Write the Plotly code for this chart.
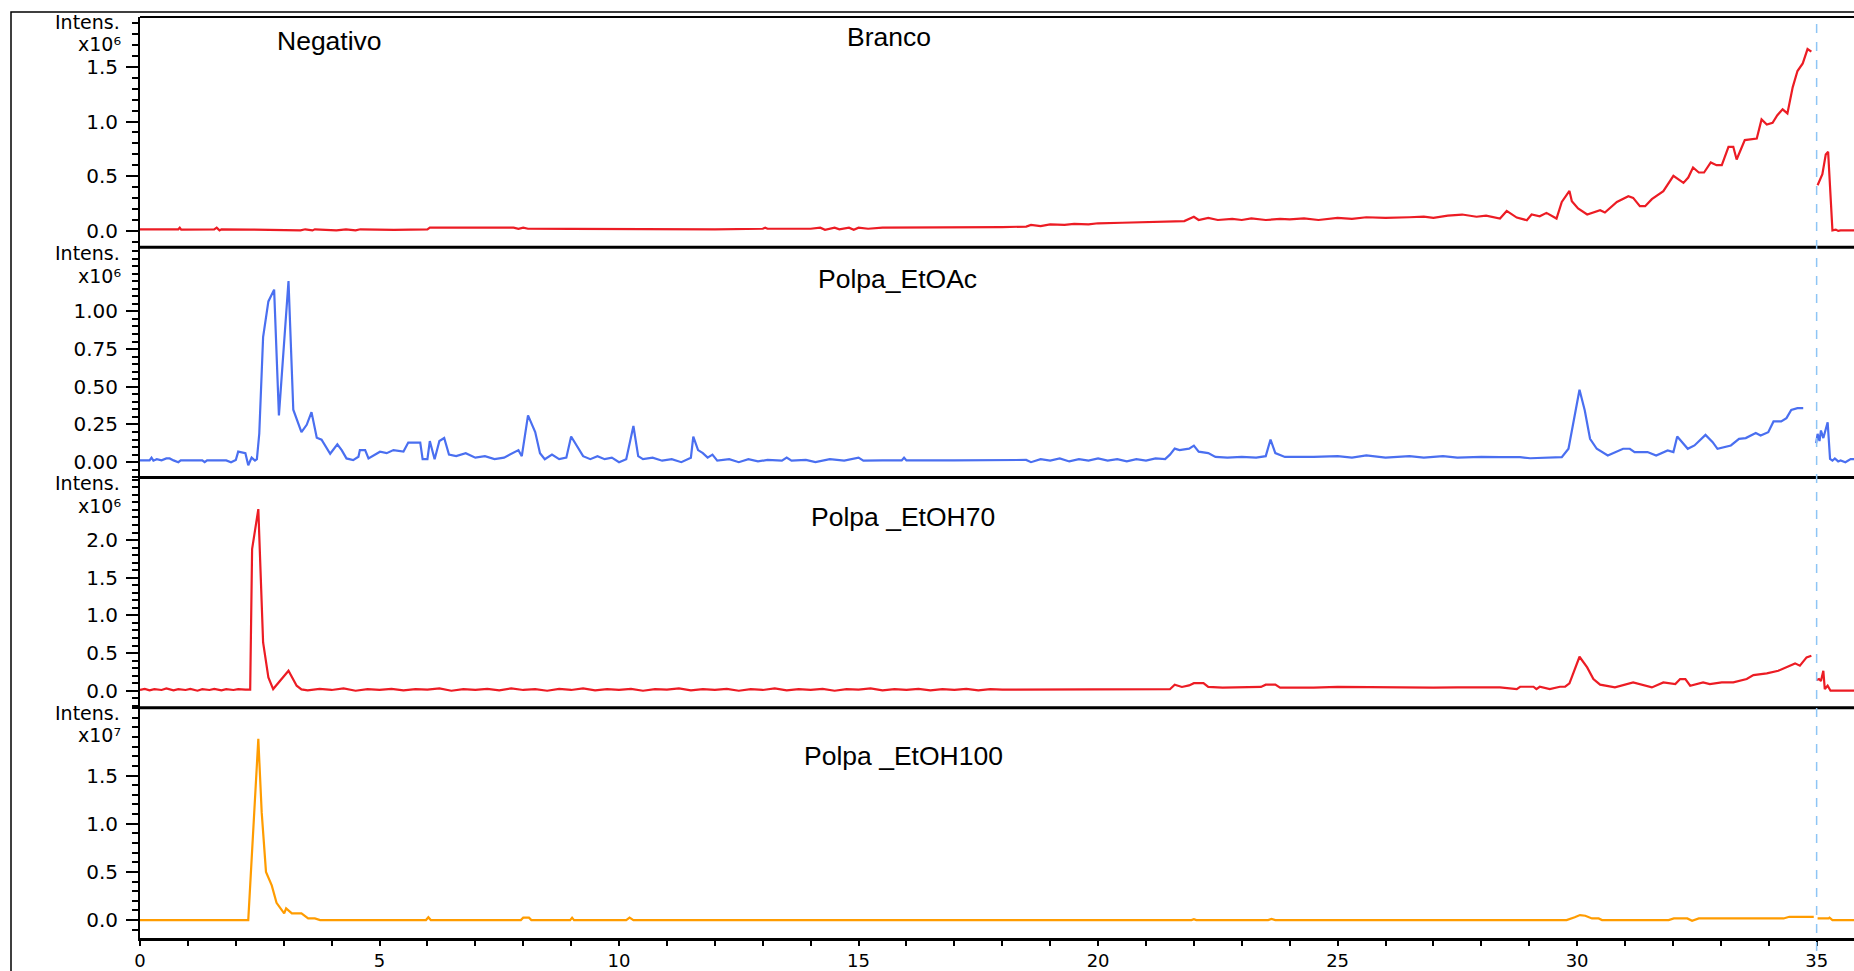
import plotly.graph_objects as go
from plotly.subplots import make_subplots

# ---------------- data (retention time in min, intensity in display units) ----------------
branco_t = [0.0, 0.8, 0.83, 0.86, 1.55, 1.6, 1.66, 1.7, 2.3, 2.85, 3.35, 3.45, 3.6, 3.65, 4.1, 4.3, 4.5,
            4.6, 5.3, 6.0, 6.05, 7.8, 7.9, 8.0, 8.1, 9.0, 10.0, 11.0, 12.0, 13.0, 13.05, 13.1, 14.0,
            14.2, 14.3, 14.5, 14.6, 14.8, 14.9, 15.0, 15.2, 15.5, 16.0, 17.0, 18.0, 18.5, 18.6, 18.8,
            19.0, 19.3, 19.5, 19.8, 20.0, 20.5, 21.0, 21.5, 21.8, 22.0, 22.1, 22.3, 22.5, 22.8, 23.0,
            23.2, 23.5, 23.8, 24.0, 24.3, 24.6, 25.0, 25.3, 25.6, 26.0, 26.5, 26.8, 27.0, 27.3, 27.6,
            27.9, 28.1, 28.39, 28.53, 28.74, 28.95, 29.05, 29.22, 29.36, 29.57, 29.68, 29.84, 29.89,
            30.02, 30.21, 30.48, 30.58, 30.83, 31.07, 31.17, 31.31, 31.42, 31.56, 31.80, 32.01, 32.22,
            32.32, 32.42, 32.54, 32.65, 32.79, 32.91, 33.02, 33.16, 33.26, 33.33, 33.50, 33.75, 33.85,
            33.96, 34.08, 34.18, 34.29, 34.39, 34.50, 34.60, 34.71, 34.81, 34.89, None,
            35.02, 35.12, 35.19, 35.24, 35.33, 35.4, 35.45, 35.5, 35.8]
branco_i = [0.015, 0.015, 0.03, 0.012, 0.015, 0.03, 0.005, 0.015, 0.012, 0.01, 0.005, 0.015, 0.005,
            0.015, 0.005, 0.015, 0.005, 0.015, 0.01, 0.015, 0.03, 0.03, 0.02, 0.03, 0.02, 0.018, 0.015,
            0.018, 0.015, 0.02, 0.03, 0.02, 0.02, 0.03, 0.01, 0.03, 0.015, 0.03, 0.01, 0.03, 0.02, 0.03,
            0.03, 0.03, 0.035, 0.04, 0.055, 0.045, 0.06, 0.055, 0.065, 0.06, 0.07, 0.075, 0.08, 0.085,
            0.09, 0.13, 0.1, 0.12, 0.1, 0.11, 0.1, 0.115, 0.1, 0.11, 0.105, 0.115, 0.1, 0.12, 0.11,
            0.125, 0.12, 0.125, 0.13, 0.12, 0.14, 0.15, 0.13, 0.14, 0.113, 0.183, 0.122, 0.098, 0.15,
            0.134, 0.165, 0.113, 0.265, 0.366, 0.272, 0.205, 0.150, 0.189, 0.168, 0.265, 0.317, 0.302,
            0.226, 0.226, 0.290, 0.363, 0.503, 0.439, 0.488, 0.580, 0.534, 0.534, 0.626, 0.601, 0.601,
            0.769, 0.769, 0.653, 0.830, 0.845, 1.019, 0.973, 0.988, 1.058, 1.111, 1.074, 1.312, 1.461,
            1.531, 1.662, 1.638, None,
            0.418, 0.519, 0.699, 0.723, 0.005, 0.012, 0.0, 0.005, 0.005]

etoac_t = [0.0, 0.2, 0.24, 0.28, 0.35, 0.45, 0.55, 0.62, 0.7, 0.8, 0.85, 1.0, 1.3, 1.35, 1.4, 1.8, 1.9,
           2.0, 2.05, 2.2, 2.26, 2.33, 2.4, 2.44, 2.49, 2.57, 2.68, 2.8, 2.9, 3.1, 3.2, 3.37, 3.48,
           3.58, 3.69, 3.79, 3.97, 4.12, 4.21, 4.31, 4.45, 4.56, 4.59, 4.7, 4.77, 5.01, 5.15, 5.29,
           5.5, 5.6, 5.85, 5.9, 6.0, 6.05, 6.15, 6.25, 6.35, 6.45, 6.6, 6.8, 7.0, 7.2, 7.4, 7.6, 7.8,
           7.9, 7.97, 8.1, 8.25, 8.35, 8.45, 8.6, 8.75, 8.9, 9.0, 9.15, 9.25, 9.4, 9.55, 9.7, 9.85,
           10.0, 10.15, 10.3, 10.4, 10.5, 10.7, 10.9, 11.1, 11.3, 11.5, 11.55, 11.65, 11.75, 11.85,
           11.95, 12.05, 12.3, 12.5, 12.7, 12.9, 13.1, 13.4, 13.5, 13.6, 13.9, 14.1, 14.4, 14.7, 15.0,
           15.1, 15.5, 15.9, 15.95, 16.0, 17.0, 18.0, 18.5, 18.6, 18.8, 19.0, 19.2, 19.4, 19.6, 19.8,
           20.0, 20.2, 20.4, 20.6, 20.8, 21.0, 21.2, 21.4, 21.5, 21.6, 21.7, 21.9, 22.0, 22.1, 22.3,
           22.45, 22.7, 23.0, 23.3, 23.5, 23.6, 23.7, 23.9, 24.5, 25.0, 25.3, 25.6, 26.0, 26.5, 26.8,
           27.2, 27.5, 28.0, 28.39, 28.81, 29.02, 29.68, 29.82, 30.05, 30.16, 30.27, 30.41, 30.64,
           30.96, 31.10, 31.20, 31.47, 31.65, 31.89, 32.01, 32.09, 32.31, 32.45, 32.68, 32.83, 32.93,
           33.21, 33.38, 33.52, 33.73, 33.83, 33.99, 34.10, 34.26, 34.37, 34.47, 34.60, 34.72, None,
           34.99, 35.02, 35.06, 35.09, 35.14, 35.23, 35.28, 35.33, 35.38, 35.45, 35.5, 35.6, 35.71, 35.8]
etoac_i = [0.012, 0.012, 0.03, 0.01, 0.02, 0.012, 0.025, 0.025, 0.012, 0.0, 0.012, 0.012, 0.012, 0.0,
           0.012, 0.012, 0.0, 0.015, 0.07, 0.06, -0.02, 0.03, 0.01, 0.02, 0.19, 0.83, 1.066, 1.144,
           0.31, 1.201, 0.348, 0.199, 0.248, 0.332, 0.162, 0.149, 0.056, 0.119, 0.08, 0.025, 0.014,
           0.036, 0.08, 0.08, 0.025, 0.069, 0.06, 0.08, 0.07, 0.13, 0.13, 0.02, 0.02, 0.14, 0.02, 0.14,
           0.16, 0.05, 0.04, 0.06, 0.03, 0.04, 0.02, 0.03, 0.06, 0.08, 0.04, 0.31, 0.2, 0.06, 0.02,
           0.05, 0.02, 0.03, 0.17, 0.09, 0.04, 0.02, 0.04, 0.02, 0.03, 0.0, 0.02, 0.24, 0.04, 0.02,
           0.03, 0.01, 0.02, 0.0, 0.03, 0.17, 0.08, 0.06, 0.03, 0.05, 0.01, 0.02, 0.0, 0.02, 0.005,
           0.015, 0.01, 0.03, 0.01, 0.015, 0.0, 0.02, 0.01, 0.03, 0.01, 0.012, 0.012, 0.03, 0.012,
           0.012, 0.012, 0.015, 0.0, 0.02, 0.01, 0.025, 0.005, 0.02, 0.01, 0.025, 0.01, 0.02, 0.005,
           0.02, 0.01, 0.025, 0.02, 0.05, 0.09, 0.08, 0.09, 0.11, 0.07, 0.06, 0.035, 0.03, 0.035,
           0.03, 0.04, 0.15, 0.06, 0.035, 0.035, 0.04, 0.03, 0.045, 0.03, 0.04, 0.03, 0.04, 0.03,
           0.035, 0.033, 0.033, 0.026, 0.033, 0.089, 0.48, 0.343, 0.155, 0.089, 0.044, 0.089, 0.089,
           0.067, 0.067, 0.044, 0.078, 0.067, 0.170, 0.089, 0.111, 0.181, 0.133, 0.089, 0.111, 0.155,
           0.16, 0.193, 0.177, 0.199, 0.27, 0.27, 0.292, 0.347, 0.358, 0.358, None,
           0.126, 0.188, 0.14, 0.21, 0.16, 0.265, 0.022, 0.01, 0.025, 0.005, 0.011, 0.0, 0.02, 0.02]

etoh70_t = [0.0, 0.1, 0.2, 0.3, 0.45, 0.55, 0.7, 0.8, 0.95, 1.05, 1.2, 1.3, 1.45, 1.55, 1.7, 1.8, 1.95,
            2.05, 2.2, 2.30, 2.34, 2.47, 2.57, 2.68, 2.78, 3.10, 3.27, 3.37, 3.5, 3.75, 4.0, 4.25,
            4.5, 4.75, 5.0, 5.25, 5.5, 5.75, 6.0, 6.25, 6.5, 6.75, 7.0, 7.25, 7.5, 7.75, 8.0, 8.25,
            8.5, 8.75, 9.0, 9.25, 9.5, 9.75, 10.0, 10.25, 10.5, 10.75, 11.0, 11.25, 11.5, 11.75,
            12.0, 12.25, 12.5, 12.75, 13.0, 13.25, 13.5, 13.75, 14.0, 14.25, 14.5, 14.75, 15.0,
            15.25, 15.5, 15.75, 16.0, 16.25, 16.5, 16.75, 17.0, 17.25, 17.5, 17.75, 18.0, 19.0,
            20.0, 21.0, 21.5, 21.6, 21.75, 21.9, 22.0, 22.2, 22.3, 22.6, 23.0, 23.4, 23.5, 23.7,
            23.8, 24.2, 24.5, 25.0, 25.5, 26.0, 26.5, 27.0, 27.5, 28.0, 28.39, 28.74, 28.81, 29.09,
            29.15, 29.22, 29.43, 29.64, 29.75, 29.84, 30.05, 30.21, 30.34, 30.48, 30.79, 31.17,
            31.56, 31.80, 32.05, 32.15, 32.26, 32.36, 32.63, 32.77, 33.02, 33.26, 33.54, 33.68,
            33.96, 34.20, 34.37, 34.55, 34.65, 34.79, 34.89, None,
            35.00, 35.05, 35.09, 35.14, 35.17, 35.23, 35.29, 35.8]
etoh70_i = [0.01, 0.025, 0.005, 0.02, 0.01, 0.03, 0.005, 0.02, 0.01, 0.025, 0.0, 0.02, 0.01, 0.025,
            0.005, 0.02, 0.01, 0.02, 0.015, 0.015, 1.88, 2.41, 0.641, 0.177, 0.022, 0.265, 0.066,
            0.018, 0.005, 0.025, 0.01, 0.03, 0.0, 0.02, 0.01, 0.025, 0.005, 0.02, 0.015, 0.03, 0.0,
            0.02, 0.01, 0.025, 0.005, 0.03, 0.01, 0.02, 0.0, 0.025, 0.01, 0.03, 0.005, 0.02, 0.01,
            0.025, 0.0, 0.02, 0.015, 0.03, 0.005, 0.02, 0.01, 0.025, 0.0, 0.02, 0.01, 0.03, 0.005,
            0.02, 0.01, 0.025, 0.0, 0.02, 0.015, 0.03, 0.005, 0.02, 0.01, 0.025, 0.005, 0.02, 0.01,
            0.025, 0.005, 0.02, 0.015, 0.015, 0.015, 0.015, 0.02, 0.08, 0.05, 0.07, 0.1, 0.1, 0.05,
            0.04, 0.04, 0.05, 0.08, 0.08, 0.04, 0.035, 0.04, 0.05, 0.045, 0.05, 0.045, 0.04, 0.045,
            0.04, 0.044, 0.022, 0.053, 0.053, 0.022, 0.053, 0.022, 0.053, 0.053, 0.097, 0.451, 0.31,
            0.155, 0.08, 0.044, 0.11, 0.044, 0.11, 0.088, 0.155, 0.155, 0.066, 0.11, 0.088, 0.11,
            0.11, 0.155, 0.208, 0.23, 0.265, 0.31, 0.363, 0.332, 0.443, 0.465, None,
            0.142, 0.155, 0.13, 0.265, 0.022, 0.066, 0.0, 0.0]

etoh100_t = [0.0, 2.26, 2.47, 2.54, 2.63, 2.75, 2.85, 3.01, 3.05, 3.17, 3.37, 3.51, 3.65, 3.76, 5.97,
             6.02, 6.07, 7.95, 8.0, 8.12, 8.17, 8.98, 9.02, 9.06, 10.15, 10.22, 10.3, 21.95, 22.0,
             22.05, 23.55, 23.62, 23.7, 29.78, 29.95, 30.06, 30.17, 30.31, 30.45, 30.52, 31.91, 32.02,
             32.30, 32.40, 32.54, 34.31, 34.43, 34.94, None, 35.02, 35.25, 35.27, 35.33, 35.8]
etoh100_i = [0.0, 0.0, 1.88, 1.12, 0.50, 0.36, 0.179, 0.069, 0.121, 0.069, 0.069, 0.017, 0.017, 0.0,
             0.0, 0.03, 0.0, 0.0, 0.025, 0.025, 0.0, 0.0, 0.025, 0.0, 0.0, 0.025, 0.0, 0.0, 0.01,
             0.0, 0.0, 0.012, 0.0, 0.0, 0.03, 0.052, 0.045, 0.017, 0.017, 0.0, 0.0, 0.017, 0.017,
             -0.007, 0.017, 0.017, 0.034, 0.034, None, 0.017, 0.017, 0.025, 0.0, 0.0]

panel_names = ["Branco", "Polpa_EtOAc", "Polpa _EtOH70", "Polpa _EtOH100"]
panel_colors = ["#ec1c24", "#4a6ff0", "#ec1c24", "#ff9c00"]
exponent_labels = ["x10\u2076", "x10\u2076", "x10\u2076", "x10\u2077"]
y_ranges = [[-0.149, 1.955], [-0.1015, 1.425], [-0.226, 2.83], [-0.186, 2.203]]
y_tickvals = [[0, 0.5, 1.0, 1.5], [0, 0.25, 0.5, 0.75, 1.0], [0, 0.5, 1.0, 1.5, 2.0], [0, 0.5, 1.0, 1.5]]
y_ticktext = [["0.0", "0.5", "1.0", "1.5"], ["0.00", "0.25", "0.50", "0.75", "1.00"],
              ["0.0", "0.5", "1.0", "1.5", "2.0"], ["0.0", "0.5", "1.0", "1.5"]]
y_minor = [0.1, 0.05, 0.1, 0.1]
x_tickvals = [0, 5, 10, 15, 20, 25, 30, 35]
x_ticktext = ["0", "5", "10", "15", "20", "25", "30", "35"]
mode_label = "Negativo"

series = [(branco_t, branco_i), (etoac_t, etoac_i), (etoh70_t, etoh70_i), (etoh100_t, etoh100_i)]

# ---------------- figure ----------------
W, H = 1854, 971
ML, MR, MT, MB = 140, 0, 17, 33
plot_w = W - ML - MR
plot_h = H - MT - MB

fig = make_subplots(rows=4, cols=1, shared_xaxes=True, vertical_spacing=0)

for k, (t, v) in enumerate(series):
    fig.add_trace(go.Scatter(x=t, y=v, mode="lines", connectgaps=False,
                             line=dict(color=panel_colors[k], width=2.2),
                             hoverinfo="skip", showlegend=False), row=k + 1, col=1)

tick_font = dict(family="DejaVu Sans", size=20, color="black")
xtick_font = dict(family="DejaVu Sans", size=18, color="black")
head_font = dict(family="DejaVu Sans", size=19, color="black")

for k in range(4):
    fig.update_yaxes(row=k + 1, col=1, range=y_ranges[k], tickmode="array",
                     tickvals=y_tickvals[k], ticktext=y_ticktext[k],
                     ticks="outside", ticklen=12, tickwidth=1.5, tickcolor="black",
                     showline=True, linecolor="black", linewidth=2, mirror=False,
                     showgrid=False, zeroline=False, tickfont=tick_font, automargin=False,
                     ticklabelstandoff=4,
                     minor=dict(tickmode="linear", tick0=0, dtick=y_minor[k], ticks="outside",
                                ticklen=6, tickwidth=1.5, tickcolor="black", showgrid=False))
    if k < 3:
        fig.update_xaxes(row=k + 1, col=1, showticklabels=False, ticks="", showline=False,
                         showgrid=False, zeroline=False, automargin=False)

fig.update_xaxes(row=4, col=1, range=[0, 35.78], tickmode="array", tickvals=x_tickvals,
                 ticktext=x_ticktext, ticks="outside", ticklen=5, tickwidth=1.5, tickcolor="black",
                 showline=True, linecolor="black", linewidth=2.5, showgrid=False, zeroline=False,
                 tickfont=xtick_font, ticklabelstandoff=0, automargin=False,
                 minor=dict(tickmode="linear", tick0=0, dtick=1, ticks="outside", ticklen=5,
                            tickwidth=1.5, tickcolor="black", showgrid=False))


def py(pix):
    return (H - MB - pix) / plot_h


def px(pix):
    return (pix - ML) / plot_w


shapes = []
# outer frame
shapes.append(dict(type="rect", xref="paper", yref="paper", x0=px(11), x1=1.05, y0=-0.2, y1=py(12),
                   line=dict(color="black", width=1.5), fillcolor="rgba(0,0,0,0)", layer="above"))
# top border of the panels
shapes.append(dict(type="line", xref="paper", yref="paper", x0=0, x1=1, y0=1, y1=1,
                   line=dict(color="black", width=2), layer="above"))
# panel separators
for yy in [0.25, 0.5, 0.75]:
    shapes.append(dict(type="line", xref="paper", yref="paper", x0=0, x1=1, y0=yy, y1=yy,
                       line=dict(color="black", width=3), layer="above"))
# dashed marker at 35 min
shapes.append(dict(type="line", xref="x4", yref="paper", x0=35, x1=35, y0=-0.014, y1=1,
                   line=dict(color="#8ec5f5", width=1.5, dash="dash"), layer="above"))
fig.update_layout(shapes=shapes)

annotations = []
name_font = dict(family="Liberation Sans, Arial", size=26.5, color="black")
name_pos = [(889, 37), (897, 279), (903, 517), (903, 756)]
for k in range(4):
    annotations.append(dict(text=panel_names[k], xref="paper", yref="paper", x=px(name_pos[k][0]),
                            y=py(name_pos[k][1]), xanchor="center", yanchor="middle",
                            showarrow=False, font=name_font))
annotations.append(dict(text=mode_label, xref="paper", yref="paper", x=px(329), y=py(41),
                        xanchor="center", yanchor="middle", showarrow=False, font=name_font))

intens_y = [22, 253, 483, 713]
exp_y = [44, 276, 506, 735]
for k in range(4):
    annotations.append(dict(text="Intens.", xref="paper", yref="paper", x=px(122), y=py(intens_y[k]),
                            xanchor="right", yanchor="middle", showarrow=False, font=head_font))
    annotations.append(dict(text=exponent_labels[k], xref="paper", yref="paper",
                            x=px(123), y=py(exp_y[k]), xanchor="right", yanchor="middle",
                            showarrow=False, font=head_font))
fig.update_layout(annotations=annotations)

fig.update_layout(width=W, height=H, margin=dict(l=ML, r=MR, t=MT, b=MB, pad=0, autoexpand=False),
                  paper_bgcolor="white", plot_bgcolor="white", showlegend=False)

fig.write_html("out.html", config={"displayModeBar": False},
               post_script="document.body.style.margin='0px';document.body.style.overflow='hidden';")
